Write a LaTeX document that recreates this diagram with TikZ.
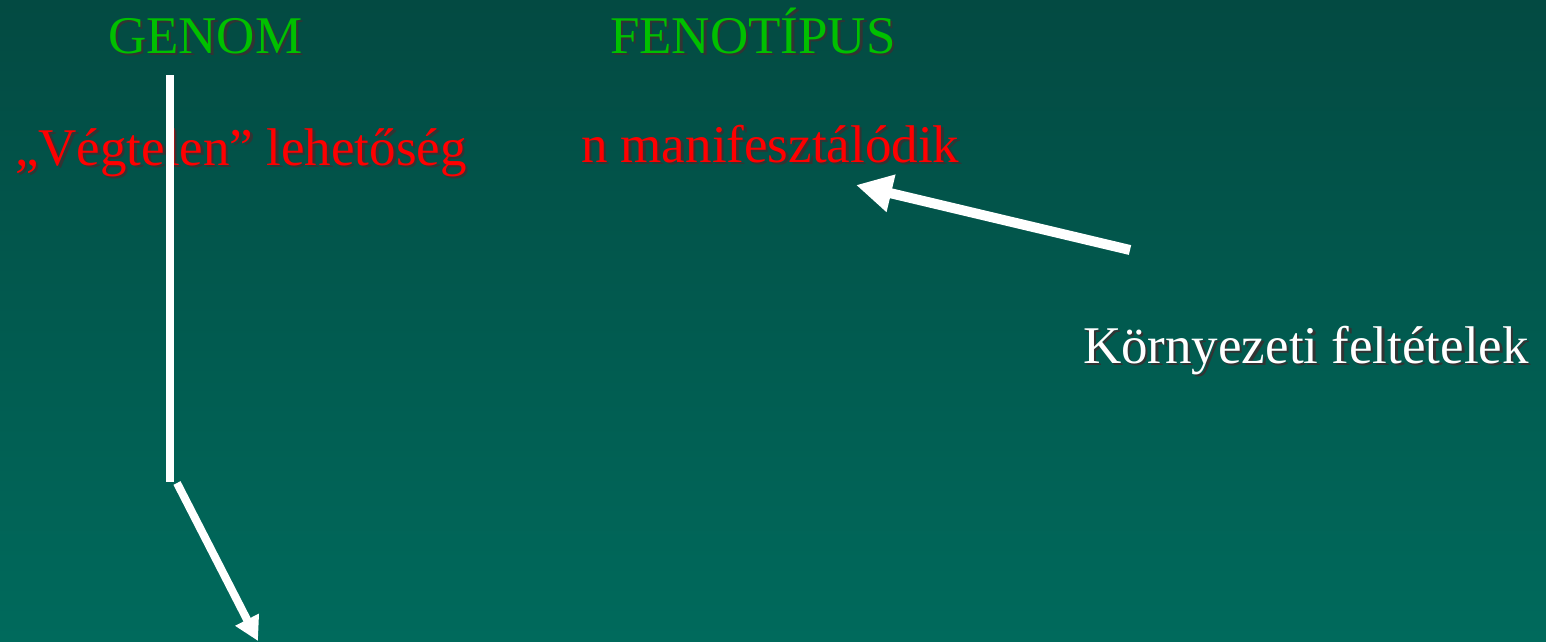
\documentclass[tikz,border=0pt]{standalone}
\usepackage{fontspec}
\setmainfont{Liberation Serif}
\usetikzlibrary{arrows.meta}
\definecolor{bgtop}{HTML}{034A42}
\definecolor{bgbot}{HTML}{006A5C}
\definecolor{titlegreen}{HTML}{00C000}
\definecolor{textred}{HTML}{FF0000}
\newcommand{\shtext}[2]{\makebox[0pt][l]{\kern2.5pt\raisebox{-2.5pt}{\color{black!80}#2}}{\color{#1}#2}}
\tikzset{
  lbl/.style={anchor=base west, inner sep=0pt, outer sep=0pt, font=\fontsize{53}{60}\selectfont},
  bar/.style={draw=white, line width=8pt},
  bigarrow/.style={draw=white, line width=10pt, -{Triangle[length=36pt,width=36pt]}},
  smallarrow/.style={draw=white, line width=8pt, -{Triangle[length=24pt,width=25pt]}}
}
\begin{document}
\begin{tikzpicture}[x=1pt,y=-1pt]
\useasboundingbox (0,0) rectangle (1546,641);
\shade[top color=bgtop, bottom color=bgbot] (0,0) rectangle (1546,641);
\node[lbl] (genom) at (108,53) {\shtext{titlegreen}{GENOM}};
\node[lbl] (feno) at (610,53) {\shtext{titlegreen}{FENOTÍPUS}};
\node[lbl] (vegtelen) at (15,165) {\shtext{textred}{„Végtelen” lehetőség}};
\node[lbl] (manif) at (581,162) {\shtext{textred}{n manifesztálódik}};
\node[lbl] (korny) at (1083,363) {\shtext{white}{Környezeti feltételek}};
\coordinate (vtop) at (170,75);
\coordinate (vbot) at (170,482);
\coordinate (dstart) at (177,483);
\coordinate (dtip) at (258,641);
\coordinate (atail) at (1130,250);
\coordinate (atip) at (856,185);
\draw[bar] (vtop) -- (vbot);
\draw[smallarrow] (dstart) -- (dtip);
\draw[bigarrow] (atail) -- (atip);
\end{tikzpicture}
\end{document}
